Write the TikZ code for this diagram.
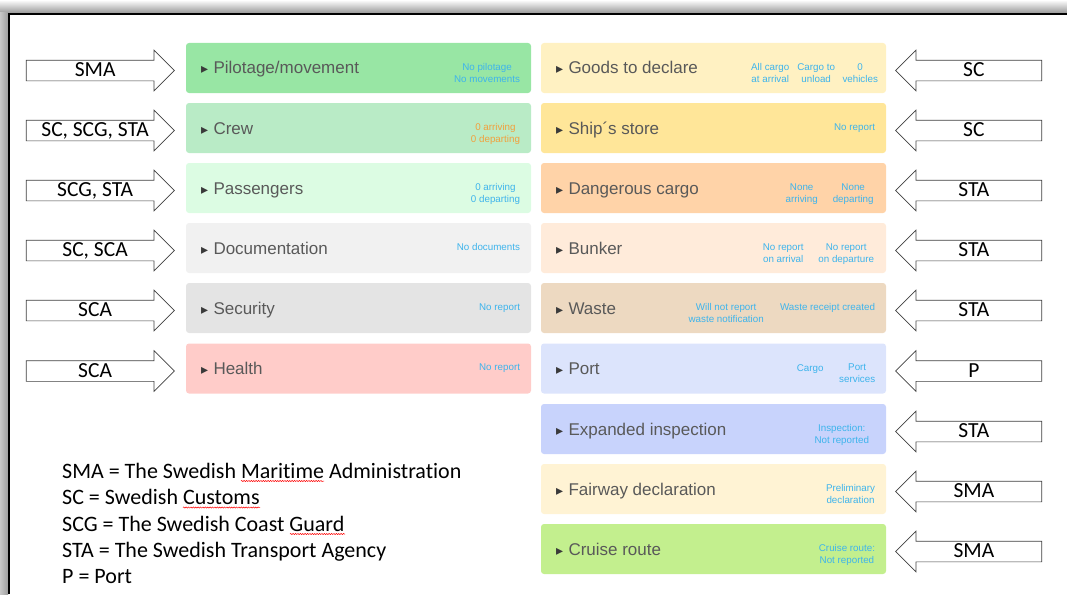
\documentclass[tikz,border=0pt]{standalone}
\usepackage{fontspec}
\setmainfont{Liberation Sans}
\newfontfamily\calfont{Carlito}[Ligatures=CommonOff]
\newfontfamily\symfont{DejaVu Sans}
\usetikzlibrary{positioning,shapes.arrows,decorations.pathmorphing}
\definecolor{titlegray}{HTML}{595959}
\definecolor{tricol}{HTML}{3A3A3A}
\definecolor{statblue}{HTML}{3EB4EC}
\definecolor{statorange}{HTML}{F2A03C}
\definecolor{pilotc}{HTML}{98E6A4}
\definecolor{crewc}{HTML}{B9EBC6}
\definecolor{passc}{HTML}{DCFCE3}
\definecolor{docuc}{HTML}{F1F1F1}
\definecolor{secuc}{HTML}{E4E4E4}
\definecolor{healc}{HTML}{FFCCC9}
\definecolor{goodsc}{HTML}{FFF1C2}
\definecolor{storec}{HTML}{FFE699}
\definecolor{dangc}{HTML}{FFD3A8}
\definecolor{bunkc}{HTML}{FFEBDA}
\definecolor{wastc}{HTML}{EDD9C1}
\definecolor{portc}{HTML}{DCE4FC}
\definecolor{inspc}{HTML}{C8D3FC}
\definecolor{fairc}{HTML}{FFF3D4}
\definecolor{cruisc}{HTML}{C3EF8E}
\newcommand{\tri}{\makebox[12.5pt][l]{\symfont\fontsize{14}{14}\selectfont\textcolor{tricol}{▸}}}
\tikzset{
  panel/.style={fill=#1, rounded corners=3pt, minimum width=345pt,
    minimum height=50pt, inner sep=0pt},
  ptitle/.style={anchor=base west, text=titlegray, inner sep=0pt,
    font=\fontsize{17}{20}\selectfont},
  status/.style={anchor=north, text=statblue, align=center, inner sep=0pt,
    font=\fontsize{9.8}{12}\selectfont},
  agencyR/.style={single arrow, draw=black!75, fill=white, line width=0.7pt,
    font=\calfont\fontsize{21.5}{24}\selectfont, text height=14pt,
    text depth=2pt, inner ysep=2pt, inner xsep=0pt,
    single arrow head extend=10pt, minimum height=148pt},
  agencyL/.style={agencyR, shape border rotate=180, minimum height=146pt},
  legend/.style={anchor=base west, inner sep=0pt,
    font=\calfont\fontsize{22}{26}\selectfont},
  squiggle/.style={red, line width=0.5pt, decorate,
    decoration={snake, amplitude=0.6pt, segment length=2.4pt}}
}
\begin{document}
\begin{tikzpicture}[x=1pt,y=-1pt]
\useasboundingbox (0,0) rectangle (1067,594);
% frame with shadow
\shade[top color=white, bottom color=black!40] (0,0) rectangle (1067,13);
\shade[left color=black!22, right color=black!38] (0,13) rectangle (8,594);
\draw[line width=2pt] (9,594) -- (9,14) -- (1067,14);

% left column
\node[panel=pilotc] (pil) at (358.5,68) {};
\node[panel=crewc] (crew) at (358.5,128) {};
\node[panel=passc] (pass) at (358.5,188) {};
\node[panel=docuc] (docu) at (358.5,248) {};
\node[panel=secuc] (secu) at (358.5,308) {};
\node[panel=healc] (heal) at (358.5,368.5) {};
\node[ptitle] (pilT) at ([xshift=15pt,yshift=-6pt]pil.west) {\tri Pilotage/movement};
\node[ptitle] (crewT) at ([xshift=15pt,yshift=-6pt]crew.west) {\tri Crew};
\node[ptitle] (passT) at ([xshift=15pt,yshift=-6pt]pass.west) {\tri Passengers};
\node[ptitle] (docuT) at ([xshift=15pt,yshift=-6pt]docu.west) {\tri Documentation};
\node[ptitle] (secuT) at ([xshift=15pt,yshift=-6pt]secu.west) {\tri Security};
\node[ptitle] (healT) at ([xshift=15pt,yshift=-6pt]heal.west) {\tri Health};
\node[status, anchor=north east] (pilS) at ([xshift=-11pt,yshift=4.5pt]pil.east) {No pilotage\\No movements};
\node[status, anchor=north east, text=statorange] (crewS) at ([xshift=-11pt,yshift=4.5pt]crew.east) {0 arriving\\0 departing};
\node[status, anchor=north east] (passS) at ([xshift=-11pt,yshift=4.5pt]pass.east) {0 arriving\\0 departing};
\node[status, anchor=north east] (docuS) at ([xshift=-11pt,yshift=4.5pt]docu.east) {No documents};
\node[status, anchor=north east] (secuS) at ([xshift=-11pt,yshift=4.5pt]secu.east) {No report};
\node[status, anchor=north east] (healS) at ([xshift=-11pt,yshift=4.5pt]heal.east) {No report};

% right column
\node[panel=goodsc] (goods) at (713.5,68) {};
\node[panel=storec] (store) at (713.5,128) {};
\node[panel=dangc] (dang) at (713.5,188) {};
\node[panel=bunkc] (bunk) at (713.5,248) {};
\node[panel=wastc] (wast) at (713.5,308) {};
\node[panel=portc] (port) at (713.5,368.5) {};
\node[panel=inspc] (insp) at (713.5,429) {};
\node[panel=fairc] (fair) at (713.5,489) {};
\node[panel=cruisc] (cruis) at (713.5,549) {};
\node[ptitle] (goodsT) at ([xshift=15pt,yshift=-6pt]goods.west) {\tri Goods to declare};
\node[ptitle] (storeT) at ([xshift=15pt,yshift=-6pt]store.west) {\tri Ship´s store};
\node[ptitle] (dangT) at ([xshift=15pt,yshift=-6pt]dang.west) {\tri Dangerous cargo};
\node[ptitle] (bunkT) at ([xshift=15pt,yshift=-6pt]bunk.west) {\tri Bunker};
\node[ptitle] (wastT) at ([xshift=15pt,yshift=-6pt]wast.west) {\tri Waste};
\node[ptitle] (portT) at ([xshift=15pt,yshift=-6pt]port.west) {\tri Port};
\node[ptitle] (inspT) at ([xshift=15pt,yshift=-6pt]insp.west) {\tri Expanded inspection};
\node[ptitle] (fairT) at ([xshift=15pt,yshift=-6pt]fair.west) {\tri Fairway declaration};
\node[ptitle] (cruisT) at ([xshift=15pt,yshift=-6pt]cruis.west) {\tri Cruise route};
\node[status] (goodsS1) at ([xshift=-116pt,yshift=4.5pt]goods.east) {All cargo\\at arrival};
\node[status] (goodsS2) at ([xshift=-70pt,yshift=4.5pt]goods.east) {Cargo to\\unload};
\node[status] (goodsS3) at ([xshift=-26pt,yshift=4.5pt]goods.east) {0\\vehicles};
\node[status, anchor=north east] (storeS) at ([xshift=-11pt,yshift=4.5pt]store.east) {No report};
\node[status] (dangS1) at ([xshift=-84.5pt,yshift=4.5pt]dang.east) {None\\arriving};
\node[status] (dangS2) at ([xshift=-33pt,yshift=4.5pt]dang.east) {None\\departing};
\node[status] (bunkS1) at ([xshift=-103pt,yshift=4.5pt]bunk.east) {No report\\on arrival};
\node[status] (bunkS2) at ([xshift=-40pt,yshift=4.5pt]bunk.east) {No report\\on departure};
\node[status] (wastS1) at ([xshift=-160pt,yshift=4.5pt]wast.east) {Will not report\\waste notification};
\node[status, anchor=north east] (wastS2) at ([xshift=-11pt,yshift=4.5pt]wast.east) {Waste receipt created};
\node[status] (portS1) at ([xshift=-76pt,yshift=4.5pt]port.east) {Cargo};
\node[status] (portS2) at ([xshift=-29pt,yshift=4.5pt]port.east) {Port\\services};
\node[status, anchor=north east] (inspS) at ([xshift=-17pt,yshift=4.5pt]insp.east) {Inspection:\\Not reported};
\node[status, anchor=north east] (fairS) at ([xshift=-11pt,yshift=4.5pt]fair.east) {Preliminary\\declaration};
\node[status, anchor=north east] (cruisS) at ([xshift=-11pt,yshift=4.5pt]cruis.east) {Cruise route:\\Not reported};

% agencies
\node[agencyR, left=11pt of pil, yshift=-2.5pt] (pilA) {SMA};
\node[agencyR, left=11pt of crew, yshift=-2.5pt] (crewA) {SC, SCG, STA};
\node[agencyR, left=11pt of pass, yshift=-2.5pt] (passA) {SCG, STA};
\node[agencyR, left=11pt of docu, yshift=-2.5pt] (docuA) {SC, SCA};
\node[agencyR, left=11pt of secu, yshift=-2.5pt] (secuA) {SCA};
\node[agencyR, left=11pt of heal, yshift=-2.5pt] (healA) {SCA};
\node[agencyL, right=9pt of goods, yshift=-2.5pt] (goodsA) {SC};
\node[agencyL, right=9pt of store, yshift=-2.5pt] (storeA) {SC};
\node[agencyL, right=9pt of dang, yshift=-2.5pt] (dangA) {STA};
\node[agencyL, right=9pt of bunk, yshift=-2.5pt] (bunkA) {STA};
\node[agencyL, right=9pt of wast, yshift=-2.5pt] (wastA) {STA};
\node[agencyL, right=9pt of port, yshift=-2.5pt] (portA) {P};
\node[agencyL, right=9pt of insp, yshift=-2.5pt] (inspA) {STA};
\node[agencyL, right=9pt of fair, yshift=-2.5pt] (fairA) {SMA};
\node[agencyL, right=9pt of cruis, yshift=-2.5pt] (cruisA) {SMA};

% legend
\node[legend] (leg1) at (62,478) {SMA = The Swedish Maritime Administration};
\node[legend] (leg2) at (62,504.5) {SC = Swedish Customs};
\node[legend] (leg3) at (62,531) {SCG = The Swedish Coast Guard};
\node[legend] (leg4) at (62,557) {STA = The Swedish Transport Agency};
\node[legend] (leg5) at (62,583.5) {P = Port};
\draw[squiggle] (241,481) -- (324,481);
\draw[squiggle] (183,507.5) -- (260,507.5);
\draw[squiggle] (290,534) -- (345,534);
\end{tikzpicture}
\end{document}
